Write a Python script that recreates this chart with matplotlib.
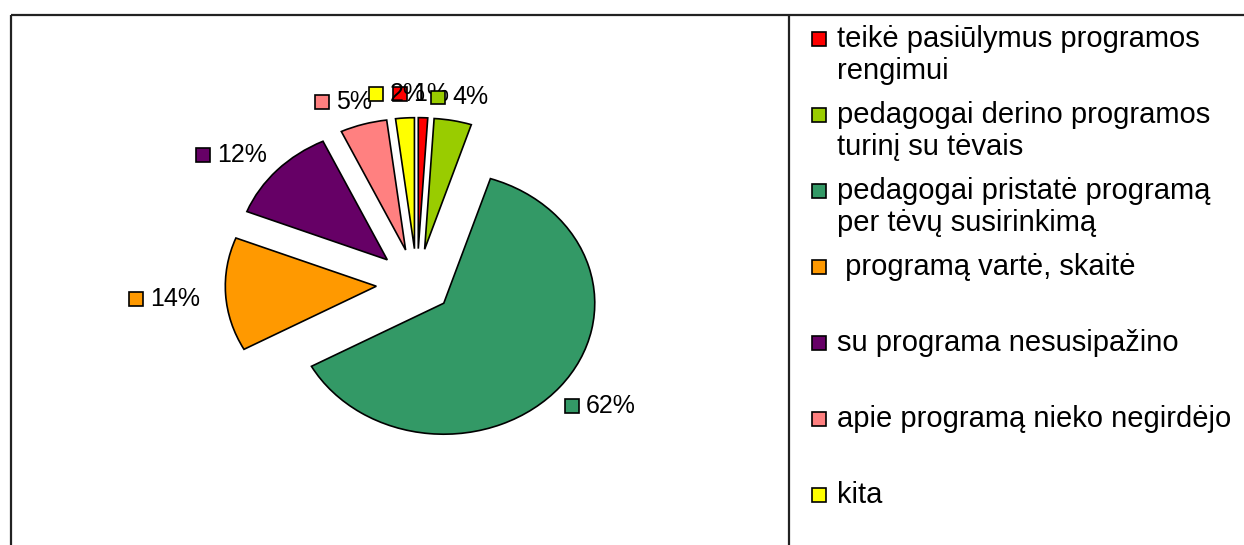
import matplotlib
matplotlib.use("Agg")
import matplotlib.pyplot as plt
import numpy as np
from matplotlib.patches import Rectangle
from matplotlib.offsetbox import DrawingArea, TextArea, HPacker, AnnotationBbox

plt.rcParams['font.family'] = ['Liberation Sans', 'DejaVu Sans']

labels = ["teikė pasiūlymus programos\nrengimui",
          "pedagogai derino programos\nturinį su tėvais",
          "pedagogai pristatė programą\nper tėvų susirinkimą",
          " programą vartė, skaitė",
          "su programa nesusipažino",
          "apie programą nieko negirdėjo",
          "kita"]
values = [1, 4, 62, 14, 12, 5, 2]
colors = ["#FF0000", "#99CC00", "#339966", "#FF9900", "#660066", "#FF8080", "#FFFF00"]
explode = [0.27, 0.27, 0.23, 0.27, 0.27, 0.27, 0.27]

W, H = 1244, 545
fig = plt.figure(figsize=(W / 100, H / 100), dpi=100)

# background axes in pixel coords: frame lines + legend
bg = fig.add_axes([0, 0, 1, 1])
bg.set_xlim(0, W)
bg.set_ylim(H, 0)
bg.axis('off')
line_kw = dict(color='#222222', lw=1.6, solid_capstyle='butt')
bg.plot([11, W], [15, 15], **line_kw)
bg.plot([11, 11], [15, H], **line_kw)
bg.plot([789, 789], [15, H], **line_kw)

for i, (lab, c) in enumerate(zip(labels, colors)):
    y = 39 + 76 * i
    bg.add_patch(Rectangle((812, y - 7), 14, 14, fc=c, ec='black', lw=1.2))
    for j, part in enumerate(lab.split("\n")):
        bg.text(837, y + 8 + 32 * j, part, fontsize=21, va='baseline', ha='left')

# pie axes: one data unit is 151 px across and 131 px down (stretched pie)
cx, cy, rx, ry = 417, 284, 151, 131
ax = fig.add_axes([(cx - 2.5 * rx) / W, (H - cy - 1.9 * ry) / H, 5 * rx / W, 3.8 * ry / H])
wedges, _ = ax.pie(values, colors=colors, explode=explode, startangle=90,
                   counterclock=False,
                   wedgeprops=dict(edgecolor='black', linewidth=1.2))
ax.set_aspect('auto')
ax.set_xlim(-2.5, 2.5)
ax.set_ylim(-1.9, 1.9)
ax.patch.set_visible(False)

for w, v, c, e in zip(wedges, values, colors, explode):
    ang = np.deg2rad((w.theta1 + w.theta2) / 2)
    ca, sa = np.cos(ang), np.sin(ang)
    xy = ((e + 1.38) * ca - 0.025, (e + 1.2) * sa - 0.02)
    da = DrawingArea(10, 10, 0, 0)
    da.add_artist(Rectangle((0, 0), 10, 10, fc=c, ec='black', lw=1.2))
    ta = TextArea(f"{v}%", textprops=dict(fontsize=18))
    pack = HPacker(children=[da, ta], sep=5, pad=0, align='center')
    ab = AnnotationBbox(pack, xy, frameon=False, box_alignment=(0.5, 0.5), pad=0)
    ax.add_artist(ab)

fig.savefig('out.png', dpi=100)
